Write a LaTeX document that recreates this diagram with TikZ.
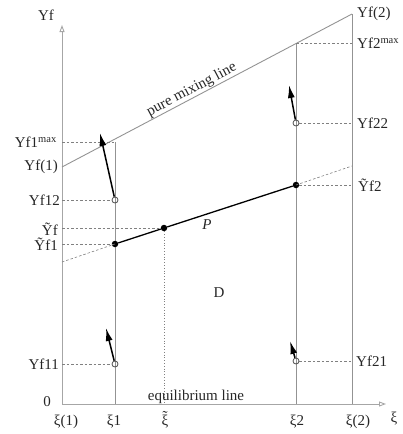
\documentclass[tikz,border=0pt]{standalone}
\usepackage{fontspec}
\setmainfont{Liberation Serif}
\usetikzlibrary{arrows.meta,positioning,calc}
\newcommand{\tildexi}{{\accent"02DC ξ}}

\tikzset{
  axis/.style={draw=gray!70, line width=0.9pt, -{Triangle[open,length=7pt,width=5pt]}},
  guide/.style={draw=gray!85, line width=0.9pt},
  helper/.style={draw=gray, dash pattern=on 2.5pt off 2pt, line width=0.6pt},
  drift/.style={line width=1.5pt, -{Latex[length=13pt,width=7pt]}},
  lbl/.style={font=\fontsize{15}{17}\selectfont, inner sep=1pt, text=black!85},
  state/.style={circle, draw=black!70, line width=0.8pt, minimum size=6pt, inner sep=0pt},
  mixpt/.style={circle, fill=black, minimum size=6.5pt, inner sep=0pt},
}

\begin{document}
\begin{tikzpicture}[x=1pt,y=-1pt]
\useasboundingbox (0,0) rectangle (403,434);
% axes and bounding lines
\coordinate (O) at (62,404);
\coordinate (ytop) at (62,25);
\coordinate (xend) at (386,404);
\coordinate (mixL) at (62,167);
\coordinate (mixR) at (352,14);
\coordinate (x1t) at (115,142);
\coordinate (x2t) at (296,43);
\draw[axis] (O) -- (ytop);
\draw[axis] (O) -- (xend);
\draw[guide] (mixL) -- node[lbl, sloped, above, pos=0.46, inner sep=0.5pt] (mixlbl) {pure mixing line} (mixR);
\draw[guide] (x1t |- O) -- (x1t);
\draw[guide] (x2t |- O) -- (x2t);
\draw[guide] (mixR |- O) -- (mixR);
% states and mixing points
\node[state] (s12) at (115,200) {};
\node[state] (s11) at (115,364) {};
\node[state] (s22) at (296,123) {};
\node[state] (s21) at (296,361) {};
\node[mixpt] (p1) at (115,244) {};
\node[mixpt] (pm) at (164,228) {};
\node[mixpt] (p2) at (296,185) {};
\coordinate (eL) at (62,262);
\coordinate (eR) at (352,166);
\draw[line width=1.3pt] (p1) -- (pm) -- (p2);
\draw[helper] (eL) -- (p1.center);
\draw[helper] (p2.center) -- (eR);
% helper lines
\draw[helper] (O |- x1t) -- (x1t);
\draw[helper] (O |- s12) -- (s12);
\draw[helper] (O |- pm) -- (pm);
\draw[helper] (O |- p1) -- (p1);
\draw[helper] (O |- s11) -- (s11);
\draw[helper] (x2t) -- (mixR |- x2t);
\draw[helper] (s22) -- (mixR |- s22);
\draw[helper] (p2) -- (mixR |- p2);
\draw[helper] (s21) -- (mixR |- s21);
\draw[draw=gray, dotted, line width=0.8pt] (pm) -- (pm |- O);
% drift arrows
\coordinate (t12) at (100,133);
\coordinate (t11) at (106,328);
\coordinate (t22) at (289,85);
\coordinate (t21) at (290,341);
\draw[drift] (s12) -- (t12);
\draw[drift] (s11) -- (t11);
\draw[drift] (s22) -- (t22);
\draw[drift] (s21) -- (t21);
% left labels
\node[lbl] (lYf) at (46,15) {Yf};
\node[lbl, anchor=east] (lY1max) at (58,142) {Yf1\textsuperscript{max}};
\node[lbl, anchor=east] (lY1) at (59,167) {Yf(1)};
\node[lbl, anchor=east] (lY12) at (61,200) {Yf12};
\node[lbl, anchor=east] (lYt) at (59,229) {Ỹf};
\node[lbl, anchor=east] (lYt1) at (59,244) {Ỹf1};
\node[lbl, anchor=east] (lY11) at (60,364) {Yf11};
\node[lbl, anchor=east] (lzero) at (52,402) {0};
% right labels
\node[lbl, anchor=west] (rY2) at (356,14) {Yf(2)};
\node[lbl, anchor=west] (rY2max) at (356,43) {Yf2\textsuperscript{max}};
\node[lbl, anchor=west] (rY22) at (356,123) {Yf22};
\node[lbl, anchor=west] (rYt2) at (357,185) {Ỹf2};
\node[lbl, anchor=west] (rY21) at (355,361) {Yf21};
% bottom labels
\node[lbl, anchor=base] (bxi1o) at (66,425) {ξ(1)};
\node[lbl, anchor=base] (bxi1) at (114,425) {ξ1};
\node[lbl, anchor=base] (bxit) at (165,425) {\tildexi};
\node[lbl, anchor=base] (bxi2) at (297,425) {ξ2};
\node[lbl, anchor=base] (bxi2o) at (358,425) {ξ(2)};
\node[lbl, anchor=base] (bxi) at (394,422) {ξ};
\node[lbl, anchor=base] (eqlbl) at (196,400) {equilibrium line};
% region labels
\node[lbl, font=\fontsize{15}{17}\selectfont\itshape] (Plbl) at (207,225) {P};
\node[lbl] (Dlbl) at (219,293) {D};
\end{tikzpicture}
\end{document}
